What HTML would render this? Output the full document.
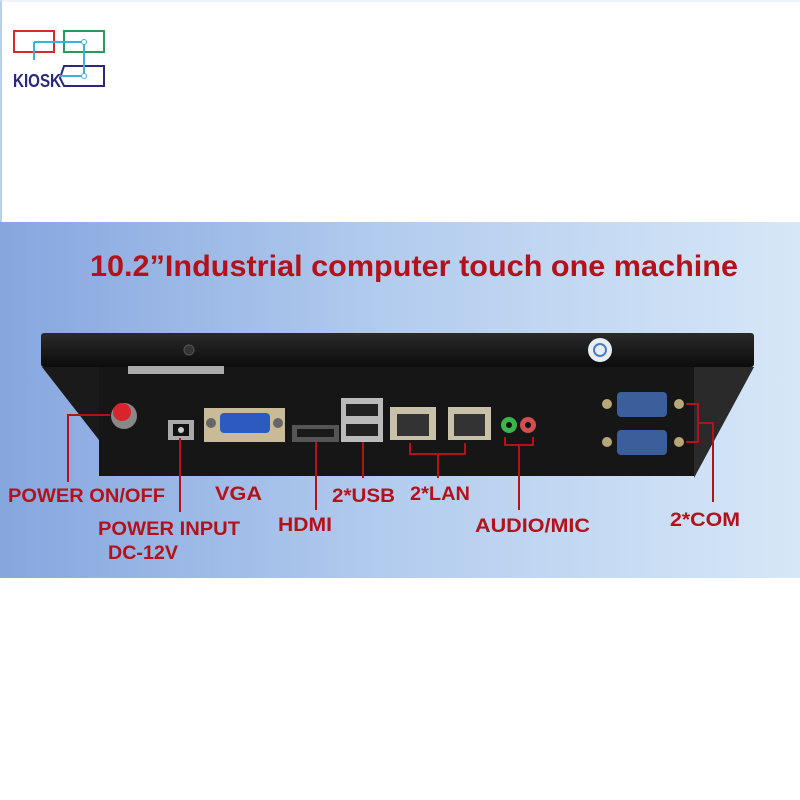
<!DOCTYPE html>
<html><head><meta charset="utf-8"><style>
html,body{margin:0;padding:0;background:#fff}
svg{display:block}
text{font-family:"Liberation Sans",Arial,sans-serif;font-weight:bold;fill:#b3121b}
</style></head><body>
<svg width="800" height="800" viewBox="0 0 800 800" xmlns="http://www.w3.org/2000/svg">
<defs>
<linearGradient id="bg" x1="0" y1="0" x2="1" y2="0">
<stop offset="0" stop-color="#86a6de"/><stop offset="0.5" stop-color="#b4cdef"/><stop offset="1" stop-color="#d6e7f7"/>
</linearGradient>
<linearGradient id="lid" x1="0" y1="0" x2="0" y2="1">
<stop offset="0" stop-color="#2a2a2a"/><stop offset="1" stop-color="#0c0c0c"/>
</linearGradient>
</defs>
<rect x="0" y="0" width="800" height="800" fill="#fff"/>
<line x1="1" y1="0" x2="1" y2="222" stroke="#b8d0ec" stroke-width="2"/>
<line x1="0" y1="1" x2="800" y2="1" stroke="#dde8f4" stroke-width="1"/>
<rect x="0" y="222" width="800" height="356" fill="url(#bg)"/>

<!-- logo -->
<rect x="14" y="31" width="40" height="21" fill="none" stroke="#d82a2a" stroke-width="2"/>
<rect x="64" y="31" width="40" height="21" fill="none" stroke="#2a9a5a" stroke-width="2"/>
<path d="M64 66 H104 V86 H64 L60 78 Z" fill="none" stroke="#2b2a78" stroke-width="2"/>
<path d="M34 42 H84 V76 M34 42 V60 M60 76 H84" fill="none" stroke="#3fb0de" stroke-width="2"/>
<circle cx="84" cy="42" r="2.5" fill="#fff" stroke="#3fb0de"/><circle cx="84" cy="76" r="2.5" fill="#fff" stroke="#3fb0de"/>
<text x="13" y="87" style="font-size:18px;fill:#2b2a78" textLength="48" lengthAdjust="spacingAndGlyphs">KIOSK</text>

<!-- title -->
<text x="90" y="276" style="font-size:30px" textLength="648" lengthAdjust="spacingAndGlyphs">10.2”Industrial computer touch one machine</text>

<!-- device -->
<polygon points="42,367 99,367 99,440" fill="#1a1a1a"/>
<polygon points="694,367 754,367 694,478" fill="#2a2a2a"/>
<rect x="99" y="367" width="595" height="109" fill="#161616"/>
<rect x="41" y="333" width="713" height="34" rx="3" fill="url(#lid)"/>
<circle cx="189" cy="350" r="5" fill="#333" stroke="#555"/>
<circle cx="600" cy="350" r="12" fill="#e8eef2"/>
<circle cx="600" cy="350" r="6" fill="none" stroke="#4a7fc0" stroke-width="2"/>
<rect x="128" y="366" width="96" height="8" fill="#aaa"/>

<!-- ports -->
<circle cx="124" cy="416" r="13" fill="#888"/>
<circle cx="122" cy="412" r="9" fill="#d8242a"/>
<rect x="168" y="420" width="26" height="20" fill="#aaa"/><rect x="173" y="424" width="16" height="12" fill="#111"/><circle cx="181" cy="430" r="3" fill="#ccc"/>
<rect x="204" y="408" width="81" height="34" fill="#c9bb98"/>
<rect x="220" y="413" width="50" height="20" rx="4" fill="#2c5bc0"/>
<circle cx="211" cy="423" r="5" fill="#666"/><circle cx="278" cy="423" r="5" fill="#666"/>
<rect x="292" y="425" width="47" height="17" fill="#555"/><rect x="297" y="429" width="37" height="8" fill="#1a1a1a"/>
<rect x="341" y="398" width="42" height="44" fill="#bbb"/><rect x="346" y="404" width="32" height="12" fill="#222"/><rect x="346" y="424" width="32" height="12" fill="#222"/>
<rect x="390" y="407" width="46" height="33" fill="#c8c0a8"/><rect x="397" y="414" width="32" height="22" fill="#333"/>
<rect x="448" y="407" width="43" height="33" fill="#c8c0a8"/><rect x="454" y="414" width="31" height="22" fill="#333"/>
<circle cx="509" cy="425" r="8" fill="#3bb44a"/><circle cx="509" cy="425" r="3" fill="#111"/>
<circle cx="528" cy="425" r="8" fill="#d05050"/><circle cx="528" cy="425" r="3" fill="#111"/>
<rect x="617" y="392" width="50" height="25" rx="4" fill="#3a5f9a"/>
<rect x="617" y="430" width="50" height="25" rx="4" fill="#3a5f9a"/>
<circle cx="607" cy="404" r="5" fill="#b8a878"/><circle cx="679" cy="404" r="5" fill="#b8a878"/>
<circle cx="607" cy="442" r="5" fill="#b8a878"/><circle cx="679" cy="442" r="5" fill="#b8a878"/>

<!-- leader lines -->
<g fill="none" stroke="#b3121b" stroke-width="2">
<path d="M110 415 H68 V482"/>
<path d="M180 438 V512"/>
<path d="M316 442 V510"/>
<path d="M363 442 V478"/>
<path d="M410 443 V454 H465 V443 M438 454 V478"/>
<path d="M505 437 V445 H533 V437 M519 445 V510"/>
<path d="M686 404 H698 V442 H686 M698 423 H713 V502"/>
</g>

<!-- labels -->
<g style="font-size:19px">
<text x="8" y="502" textLength="157" lengthAdjust="spacingAndGlyphs">POWER ON/OFF</text>
<text x="98" y="535" textLength="142" lengthAdjust="spacingAndGlyphs">POWER  INPUT</text>
<text x="108" y="559" textLength="70" lengthAdjust="spacingAndGlyphs">DC-12V</text>
<text x="215" y="500" textLength="47" lengthAdjust="spacingAndGlyphs">VGA</text>
<text x="278" y="531" textLength="54" lengthAdjust="spacingAndGlyphs">HDMI</text>
<text x="332" y="502" textLength="63" lengthAdjust="spacingAndGlyphs">2*USB</text>
<text x="410" y="500" textLength="60" lengthAdjust="spacingAndGlyphs">2*LAN</text>
<text x="475" y="532" textLength="115" lengthAdjust="spacingAndGlyphs">AUDIO/MIC</text>
<text x="670" y="526" textLength="70" lengthAdjust="spacingAndGlyphs">2*COM</text>
</g>
</svg>
</body></html>
